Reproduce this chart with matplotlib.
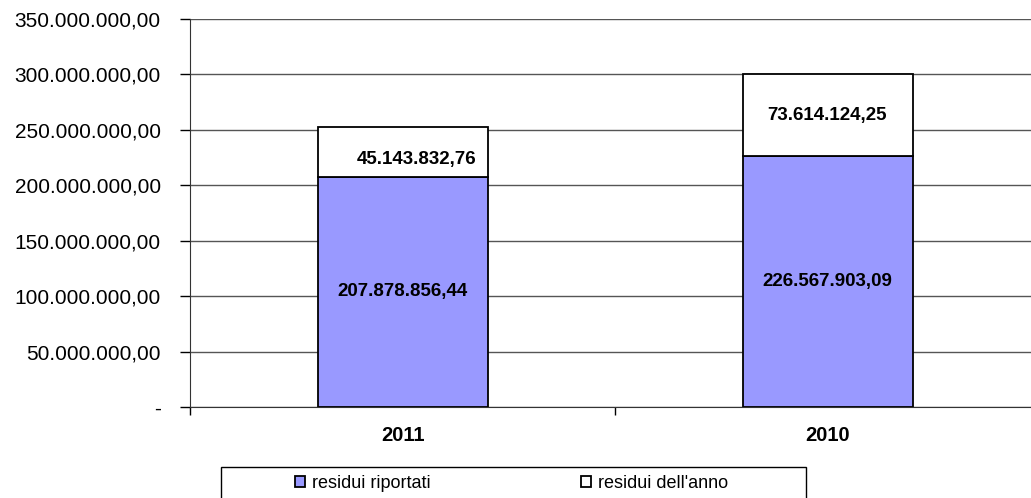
import matplotlib.pyplot as plt
from matplotlib.patches import Rectangle
from matplotlib.ticker import FuncFormatter

years = ["2011", "2010"]
residui_riportati = [207878856.44, 226567903.09]
residui_anno = [45143832.76, 73614124.25]
y_ticks = [0, 50e6, 100e6, 150e6, 200e6, 250e6, 300e6, 350e6]


def fmt_it(v, pos=None):
    if v == 0:
        return "-"
    s = "{:,.2f}".format(v)
    return s.replace(",", "X").replace(".", ",").replace("X", ".")


plt.rcParams['font.family'] = ['Liberation Sans', 'DejaVu Sans']

W, H = 1031, 498
fig = plt.figure(figsize=(W / 100, H / 100), dpi=100)
ax = fig.add_axes([190 / W, 91 / H, 850 / W, 388 / H])

x = list(range(len(years)))
b1 = ax.bar(x, residui_riportati, width=0.4, color="#9999FF",
            edgecolor="black", linewidth=1.3, label="residui riportati", zorder=3)
b2 = ax.bar(x, residui_anno, width=0.4, bottom=residui_riportati, color="white",
            edgecolor="black", linewidth=1.3, label="residui dell'anno", zorder=3)

# value labels
for i in x:
    ax.text(i, residui_riportati[i] / 2, fmt_it(residui_riportati[i]),
            ha="center", va="center", fontsize=13.5, fontweight="bold", zorder=4)
xoff = [0.033, 0.0]
yoff = [-0.16, 0.0]
for i in x:
    mid = residui_riportati[i] + residui_anno[i] / 2
    ax.text(i + xoff[i], mid + yoff[i] * residui_anno[i], fmt_it(residui_anno[i]),
            ha="center", va="center", fontsize=13.5, fontweight="bold", zorder=4)

ax.set_xlim(-0.5, 1.5)
ax.set_ylim(0, 350e6)
ax.set_yticks(y_ticks)
ax.yaxis.set_major_formatter(FuncFormatter(fmt_it))
ax.yaxis.grid(True, color="#555555", linewidth=1.0, zorder=0)

# category labels between boundary ticks
ax.set_xticks([-0.5, 0.5, 1.5])
ax.set_xticklabels([])
ax.set_xticks(x, minor=True)
ax.set_xticklabels(years, minor=True, fontsize=14.5, fontweight="bold")
ax.tick_params(axis="x", which="minor", length=0, pad=14)
ax.tick_params(axis="x", which="major", length=6, width=1, direction="out")
ax.tick_params(axis="y", length=7, width=1, labelsize=15, pad=14)

for side in ["top", "right"]:
    ax.spines[side].set_visible(False)
ax.spines["left"].set_color("#333333")
ax.spines["bottom"].set_color("#333333")

# legend box runs off the bottom edge
fig.patches.append(Rectangle((221 / W, -0.1), 585 / W, 0.1 + 31 / H,
                             transform=fig.transFigure, facecolor="white",
                             edgecolor="black", linewidth=1.0))
leg = fig.legend(handles=[b1, b2], loc="center left", ncol=2, frameon=False,
                 bbox_to_anchor=(295 / W, 15 / H), fontsize=13,
                 handlelength=0.55, handleheight=0.55, handletextpad=0.4,
                 borderaxespad=0, borderpad=0, columnspacing=8.3)

fig.savefig("out.png", dpi=100)
